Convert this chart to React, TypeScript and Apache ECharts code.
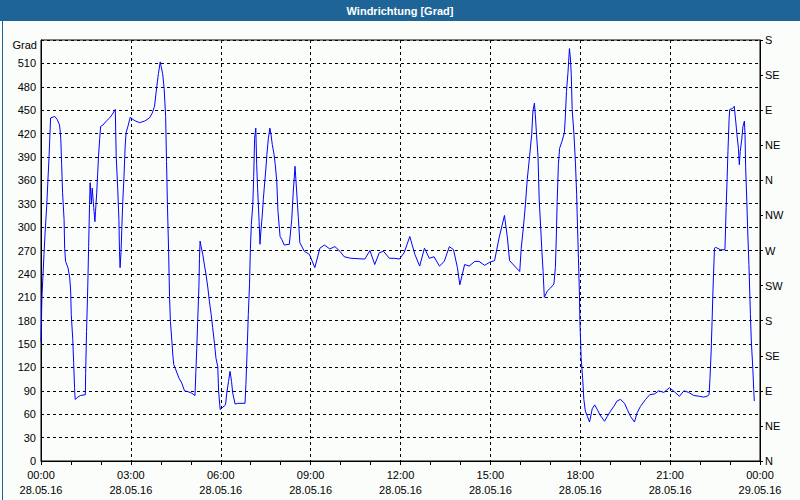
import React, { useEffect, useRef } from "react";
import * as echarts from "echarts";

// Time of each reading, in hours since 28.05.16 00:00
const hours: number[] = [
  0.0, 0.03, 0.1, 0.14, 0.19, 0.23, 0.27, 0.3, 0.32, 0.46, 0.54, 0.62, 0.66, 0.69, 0.72, 0.77, 0.79, 0.82, 0.9, 0.96,
  0.99, 1.01, 1.06, 1.09, 1.12, 1.14, 1.23, 1.32, 1.48, 1.49, 1.52, 1.56, 1.59, 1.62, 1.64, 1.68, 1.71, 1.76, 1.8, 1.82,
  1.86, 1.89, 1.92, 1.96, 1.99, 2.07, 2.18, 2.29, 2.37, 2.48, 2.51, 2.56, 2.6, 2.62, 2.64, 2.67, 2.7, 2.73, 2.77, 2.81,
  2.84, 2.9, 2.98, 3.07, 3.16, 3.29, 3.46, 3.62, 3.71, 3.79, 3.84, 3.88, 3.92, 3.98, 4.01, 4.06, 4.11, 4.16, 4.19, 4.22,
  4.26, 4.29, 4.32, 4.37, 4.4, 4.43, 4.48, 4.54, 4.61, 4.7, 4.79, 4.9, 5.03, 5.14, 5.17, 5.2, 5.23, 5.27, 5.29, 5.31,
  5.34, 5.4, 5.46, 5.51, 5.57, 5.62, 5.68, 5.73, 5.79, 5.84, 5.9, 5.93, 5.98, 6.07, 6.16, 6.2, 6.26, 6.31, 6.36, 6.4,
  6.48, 6.57, 6.81, 6.84, 6.88, 6.92, 6.96, 6.99, 7.02, 7.07, 7.1, 7.13, 7.17, 7.2, 7.23, 7.28, 7.31, 7.34, 7.38, 7.42,
  7.46, 7.5, 7.54, 7.59, 7.64, 7.68, 7.72, 7.78, 7.82, 7.87, 7.91, 7.98, 8.04, 8.12, 8.29, 8.37, 8.42, 8.48, 8.52, 8.59,
  8.64, 8.79, 8.96, 9.14, 9.31, 9.46, 9.64, 9.81, 9.98, 10.12, 10.34, 10.81, 10.98, 11.14, 11.29, 11.43, 11.63, 11.81, 11.96, 12.12,
  12.31, 12.48, 12.64, 12.8, 12.96, 13.12, 13.3, 13.46, 13.63, 13.77, 13.9, 13.98, 14.14, 14.29, 14.48, 14.62, 14.81, 14.98, 15.14, 15.29,
  15.47, 15.57, 15.64, 15.98, 16.03, 16.1, 16.17, 16.23, 16.31, 16.38, 16.42, 16.47, 16.5, 16.54, 16.59, 16.63, 16.68, 16.72, 16.76, 16.8,
  16.9, 17.01, 17.12, 17.17, 17.2, 17.23, 17.27, 17.31, 17.39, 17.47, 17.5, 17.54, 17.59, 17.62, 17.64, 17.67, 17.7, 17.73, 17.79, 17.84,
  17.88, 17.91, 17.94, 17.97, 17.99, 18.03, 18.08, 18.12, 18.17, 18.24, 18.31, 18.4, 18.48, 18.57, 18.66, 18.81, 18.9, 19.01, 19.12, 19.23,
  19.34, 19.48, 19.57, 19.68, 19.81, 19.9, 20.01, 20.18, 20.32, 20.48, 20.62, 20.79, 20.98, 21.14, 21.31, 21.46, 21.62, 21.79, 21.98, 22.12,
  22.23, 22.3, 22.33, 22.37, 22.4, 22.43, 22.48, 22.52, 22.68, 22.83, 22.87, 22.9, 22.93, 22.97, 22.99, 23.08, 23.14, 23.19, 23.23, 23.28,
  23.31, 23.34, 23.39, 23.43, 23.48, 23.5, 23.52, 23.56, 23.59, 23.63, 23.68, 23.71, 23.76, 23.79, 23.81,
];

// Wind direction in degrees (unwrapped, may exceed 360)
const directions: number[] = [
  153, 209, 265, 295, 327, 359, 391, 421, 440, 442, 438, 431, 414, 380, 344, 310, 273, 256, 248, 235,
  218, 188, 156, 126, 94, 79, 82, 84, 85, 112, 166, 222, 275, 329, 357, 331, 350, 325, 307, 320,
  344, 367, 391, 414, 429, 431, 436, 440, 444, 451, 391, 350, 310, 269, 248, 267, 301, 333, 365, 404,
  421, 429, 441, 438, 436, 434, 436, 440, 446, 455, 472, 485, 497, 512, 506, 497, 478, 442, 384, 329,
  269, 211, 179, 153, 136, 124, 119, 113, 106, 100, 90, 89, 87, 84, 115, 145, 179, 222, 260, 282,
  276, 265, 250, 239, 222, 205, 188, 171, 151, 132, 121, 89, 66, 69, 72, 87, 102, 115, 102, 87,
  73, 74, 74, 98, 141, 188, 226, 273, 303, 329, 365, 414, 427, 380, 350, 307, 278, 295, 312, 335,
  354, 372, 393, 414, 427, 418, 406, 393, 380, 359, 320, 288, 284, 277, 278, 310, 345, 378, 354, 312,
  280, 269, 265, 248, 273, 277, 272, 275, 269, 262, 260, 259, 270, 252, 267, 269, 260, 260, 259, 267,
  288, 265, 250, 273, 260, 262, 250, 256, 275, 271, 248, 226, 252, 250, 256, 256, 251, 255, 257, 286,
  315, 286, 257, 243, 273, 299, 329, 361, 391, 419, 449, 459, 444, 419, 391, 335, 299, 269, 243, 210,
  218, 222, 227, 248, 286, 333, 380, 401, 410, 421, 440, 474, 498, 517, 529, 517, 496, 451, 419, 382,
  342, 299, 260, 218, 179, 132, 106, 79, 64, 57, 50, 67, 72, 66, 59, 51, 57, 64, 70, 77,
  79, 74, 66, 57, 50, 62, 70, 79, 85, 86, 90, 88, 94, 89, 83, 90, 88, 84, 83, 82,
  83, 85, 106, 141, 179, 218, 273, 274, 271, 271, 325, 359, 397, 440, 451, 452, 455, 436, 419, 401,
  380, 397, 412, 429, 436, 419, 378, 333, 295, 252, 188, 154, 119, 92, 77,
];

const compassLabels: string[] = ["N", "NE", "E", "SE", "S", "SW", "W", "NW", "N", "NE", "E", "SE", "S"];
const dateLabels: string[] = ["28.05.16", "29.05.16"];

const TITLE = "Windrichtung [Grad]";
const FONT = "'Liberation Sans', Arial, sans-serif";

export default function App() {
  const ref = useRef<HTMLDivElement>(null);

  useEffect(() => {
    if (!ref.current) return;
    const chart = echarts.init(ref.current, undefined, { renderer: "svg" });
    const data = hours.map((h, i) => [h, directions[i]]);
    const pad = (n: number) => (n < 10 ? "0" + n : String(n));

    chart.setOption({
      animation: false,
      backgroundColor: "#fbfdfb",
      textStyle: { fontFamily: FONT },
      graphic: [
        {
          type: "rect",
          left: 0,
          top: 0,
          shape: { width: 800, height: 21 },
          style: { fill: "#1e6496" },
          z: 10,
        },
        {
          type: "rect",
          left: 0,
          top: 0,
          shape: { x: 0.5, y: 0.5, width: 799, height: 499 },
          style: { fill: "none", stroke: "#1e6496", lineWidth: 1 },
          z: 10,
        },
        {
          type: "text",
          x: 400,
          y: 10.5,
          style: {
            text: TITLE,
            fill: "#ffffff",
            font: "bold 11px " + FONT,
            textAlign: "center",
            textVerticalAlign: "middle",
          },
          z: 11,
        },
      ],
      grid: {
        left: 41,
        right: 40,
        top: 40,
        bottom: 39,
        show: true,
        borderColor: "#000000",
        borderWidth: 1,
        backgroundColor: "transparent",
      },
      xAxis: {
        type: "value",
        min: 0,
        max: 24,
        interval: 3,
        axisLine: { show: true, lineStyle: { color: "#000", width: 1 } },
        axisTick: { show: true, length: 4, lineStyle: { color: "#000" } },
        minorTick: { show: true, splitNumber: 3, length: 4, lineStyle: { color: "#000" } },
        splitLine: { show: true, lineStyle: { color: "#000", type: [3, 3], width: 1 } },
        axisLabel: {
          color: "#000",
          fontSize: 11,
          fontFamily: FONT,
          margin: 6,
          lineHeight: 15,
          formatter: (v: number) => {
            const h = Math.round(v);
            return pad(h % 24) + ":00\n" + (h >= 24 ? dateLabels[1] : dateLabels[0]);
          },
        },
      },
      yAxis: [
        {
          type: "value",
          min: 0,
          max: 540,
          interval: 30,
          name: "Grad",
          nameLocation: "end",
          nameGap: -10,
          nameTextStyle: { color: "#000", fontSize: 11, fontFamily: FONT, align: "right", padding: [0, 4, 0, 0] },
          axisLine: { show: true, lineStyle: { color: "#000", width: 1 } },
          axisTick: { show: false },
          splitLine: { show: true, lineStyle: { color: "#000", type: [3, 3], width: 1 } },
          axisLabel: {
            color: "#000",
            fontSize: 11,
            fontFamily: FONT,
            margin: 5,
            showMaxLabel: false,
          },
        },
        {
          type: "value",
          min: 0,
          max: 540,
          interval: 45,
          position: "right",
          axisLine: { show: true, lineStyle: { color: "#000", width: 1 } },
          axisTick: { show: true, length: 3, inside: false, lineStyle: { color: "#000" } },
          splitLine: { show: false },
          axisLabel: {
            color: "#000",
            fontSize: 11,
            fontFamily: FONT,
            margin: 5,
            formatter: (v: number) => compassLabels[Math.round(v / 45)] ?? "",
          },
        },
      ],
      series: [
        {
          type: "line",
          data,
          yAxisIndex: 0,
          showSymbol: false,
          symbol: "none",
          lineStyle: { color: "#0000ff", width: 1 },
          itemStyle: { color: "#0000ff" },
        },
      ],
    });

    return () => chart.dispose();
  }, []);

  return <div ref={ref} style={{ position: "fixed", left: 0, top: 0, width: 800, height: 500 }} />;
}
